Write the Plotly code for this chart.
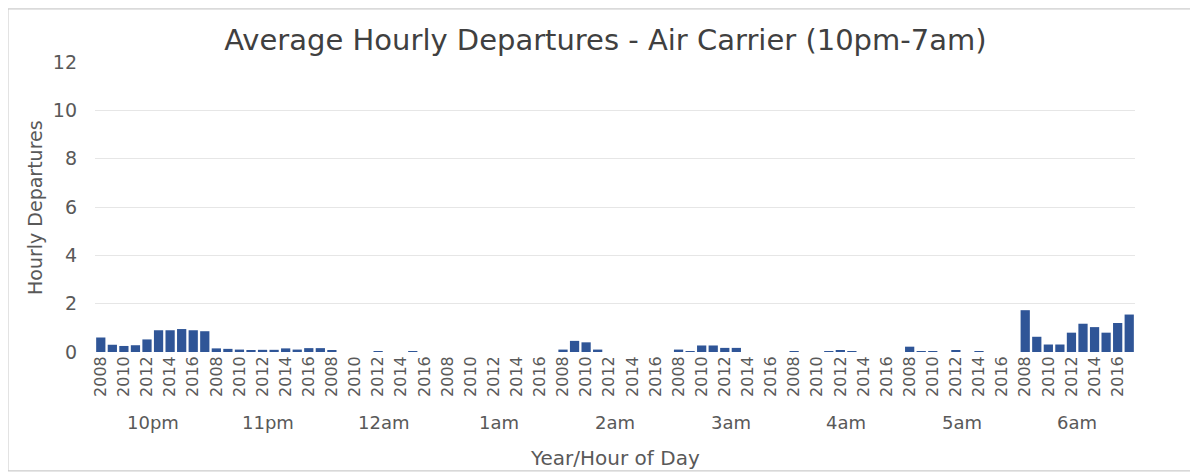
import plotly.graph_objects as go

hours = ["10pm", "11pm", "12am", "1am", "2am", "3am", "4am", "5am", "6am"]
years = [2008, 2009, 2010, 2011, 2012, 2013, 2014, 2015, 2016, 2017]

dep_10pm = [0.60, 0.30, 0.25, 0.28, 0.52, 0.90, 0.90, 0.95, 0.90, 0.86]
dep_11pm = [0.15, 0.13, 0.10, 0.05, 0.09, 0.09, 0.15, 0.10, 0.16, 0.16]
dep_12am = [0.05, 0.00, 0.00, 0.00, 0.03, 0.00, 0.00, 0.03, 0.00, 0.00]
dep_1am = [0.00, 0.00, 0.00, 0.00, 0.00, 0.00, 0.00, 0.00, 0.00, 0.00]
dep_2am = [0.10, 0.46, 0.40, 0.10, 0.00, 0.00, 0.00, 0.00, 0.00, 0.00]
dep_3am = [0.10, 0.03, 0.27, 0.27, 0.17, 0.17, 0.00, 0.00, 0.00, 0.00]
dep_4am = [0.03, 0.00, 0.00, 0.02, 0.08, 0.03, 0.00, 0.00, 0.00, 0.00]
dep_5am = [0.22, 0.04, 0.02, 0.00, 0.08, 0.00, 0.03, 0.00, 0.00, 0.00]
dep_6am = [1.73, 0.63, 0.31, 0.31, 0.80, 1.17, 1.03, 0.80, 1.20, 1.55]

series = [dep_10pm, dep_11pm, dep_12am, dep_1am, dep_2am, dep_3am, dep_4am, dep_5am, dep_6am]
labeled_years = [2008, 2010, 2012, 2014, 2016]

n_years = len(years)
xs, ys = [], []
for g, vals in enumerate(series):
    for i, v in enumerate(vals):
        xs.append(g * n_years + i)
        ys.append(v)

tickvals, ticktext = [], []
for g in range(len(hours)):
    for i, yr in enumerate(years):
        if yr in labeled_years:
            tickvals.append(g * n_years + i)
            ticktext.append(str(yr))

font_family = "DejaVu Sans, Verdana, sans-serif"
grey = "#595959"

fig = go.Figure(go.Bar(x=xs, y=ys, marker=dict(color="#2f5597", line=dict(width=0))))

annotations = []
for g, h in enumerate(hours):
    annotations.append(dict(
        x=g * n_years + (n_years - 1) / 2, y=0, xref="x", yref="paper",
        text=h, showarrow=False, yshift=-70, yanchor="middle",
        font=dict(size=18, color=grey, family=font_family)))
annotations.append(dict(
    x=0.5, y=0, xref="paper", yref="paper", text="Year/Hour of Day",
    showarrow=False, yshift=-106, yanchor="middle",
    font=dict(size=20, color=grey, family=font_family)))
annotations.append(dict(
    x=-0.0577, y=0.5, xref="paper", yref="paper", text="Hourly Departures",
    showarrow=False, textangle=-90, xanchor="center", yanchor="middle",
    font=dict(size=19, color=grey, family=font_family)))

fig.update_layout(
    width=1190, height=467,
    margin=dict(l=87, r=63, t=54, b=123),
    paper_bgcolor="white", plot_bgcolor="white",
    bargap=0.2,
    showlegend=False,
    title=dict(text="Average Hourly Departures - Air Carrier (10pm-7am)",
               x=0.502, xanchor="center", y=0.931, yanchor="middle",
               font=dict(size=29, color="#404040", family=font_family)),
    xaxis=dict(range=[-0.5, len(hours) * n_years - 0.5], tickmode="array",
               tickvals=tickvals, ticktext=ticktext, tickangle=-90,
               tickfont=dict(size=16, color=grey, family=font_family),
               showgrid=False, zeroline=False, showline=False, ticks=""),
    yaxis=dict(range=[0, 12], dtick=2, tick0=0,
               tickfont=dict(size=19, color=grey, family=font_family),
               gridcolor="#e6e6e6", gridwidth=1, zeroline=False, ticks="",
               ticklabelstandoff=17),
    annotations=annotations,
    shapes=[dict(type="rect", xref="paper", yref="paper",
                 x0=-0.0837, x1=1.0587, y0=-0.41, y1=1.183,
                 line=dict(color="#bfbfbf", width=1))],
)

fig.write_html("out.html")
